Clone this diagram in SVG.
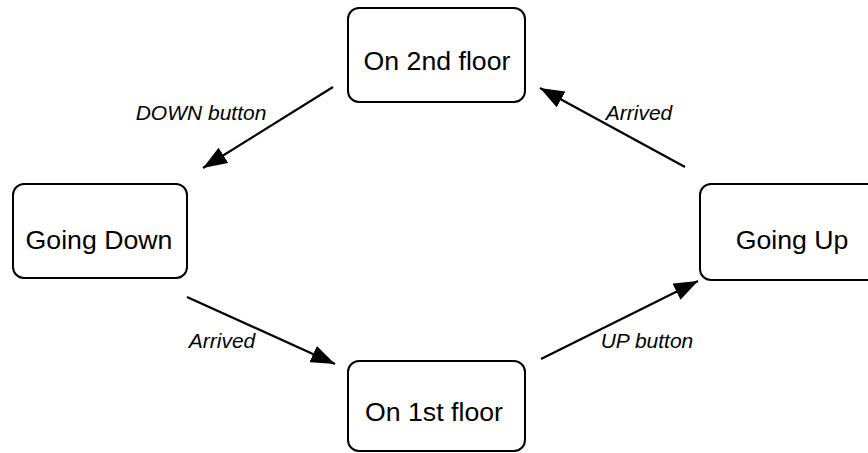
<svg xmlns="http://www.w3.org/2000/svg" width="868" height="453" viewBox="0 0 868 453">
  <defs>
    <marker id="head" viewBox="0 0 24 18" refX="24" refY="9" markerWidth="24" markerHeight="18" markerUnits="userSpaceOnUse" orient="auto">
      <path d="M0,0 L24,9 L0,18 Z" fill="#000"/>
    </marker>
    <style>
      .state rect { fill: #fff; stroke: #000; stroke-width: 2; }
      .state text { font-family: "Liberation Sans", Arial, sans-serif; font-size: 26.7px; fill: #000; text-anchor: middle; }
      .edge { stroke: #000; stroke-width: 2.2; fill: none; marker-end: url(#head); }
      .label { font-family: "Liberation Sans", Arial, sans-serif; font-size: 21px; font-style: italic; fill: #000; text-anchor: middle; }
    </style>
  </defs>
  <rect width="868" height="453" fill="#fff"/>

  <g id="on-2nd-floor" class="state">
    <rect x="348" y="8" width="177" height="94" rx="11"/>
    <text x="437" y="70">On 2nd floor</text>
  </g>
  <g id="going-down" class="state">
    <rect x="13" y="184" width="174" height="94" rx="11"/>
    <text x="99" y="249">Going Down</text>
  </g>
  <g id="going-up" class="state">
    <rect x="700" y="184" width="186" height="96" rx="11"/>
    <text x="792" y="249">Going Up</text>
  </g>
  <g id="on-1st-floor" class="state">
    <rect x="348" y="361" width="177" height="90" rx="11"/>
    <text x="434" y="421">On 1st floor</text>
  </g>

  <g id="connectors">
    <line class="edge" x1="333" y1="87" x2="203" y2="168"/>
    <text class="label" x="201" y="120">DOWN button</text>
    <line class="edge" x1="685" y1="167" x2="540" y2="88"/>
    <text class="label" x="639" y="120">Arrived</text>
    <line class="edge" x1="187" y1="297" x2="335" y2="364"/>
    <text class="label" x="222" y="348">Arrived</text>
    <line class="edge" x1="541" y1="359" x2="698" y2="281"/>
    <text class="label" x="647" y="348">UP button</text>
  </g>
</svg>
